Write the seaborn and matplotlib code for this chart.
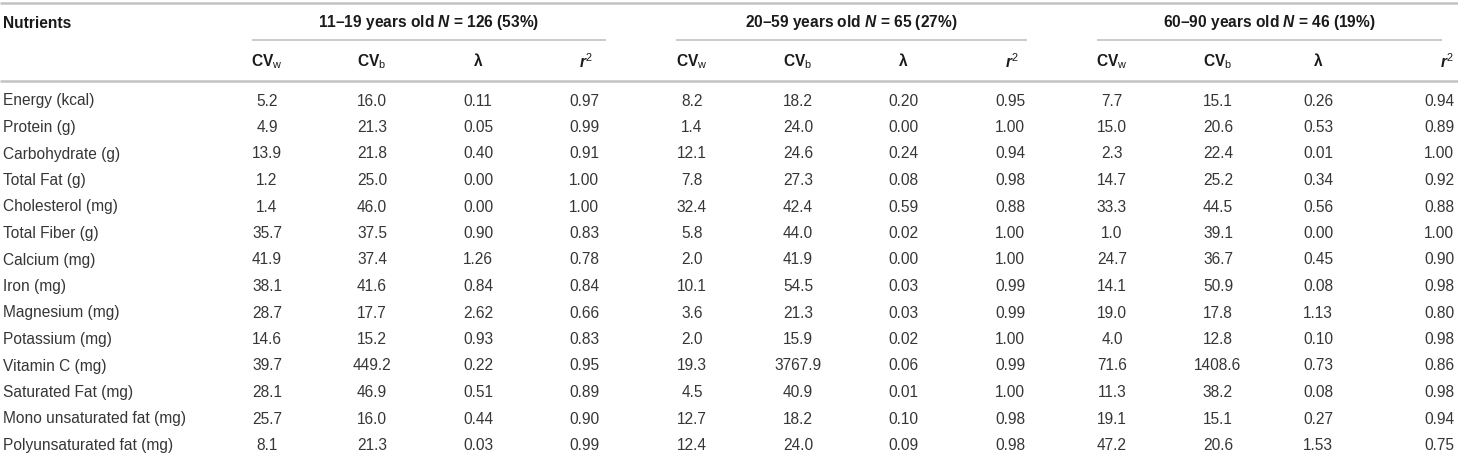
import matplotlib
matplotlib.use("Agg")
import matplotlib.pyplot as plt
import seaborn as sns

sns.set_theme(style="white")
plt.rcParams['font.family'] = ['Liberation Sans', 'DejaVu Sans']
plt.rcParams['mathtext.fontset'] = 'custom'
plt.rcParams['mathtext.rm'] = 'Liberation Sans'
plt.rcParams['mathtext.it'] = 'Liberation Sans:italic'
plt.rcParams['mathtext.bf'] = 'Liberation Sans:bold'
plt.rcParams['mathtext.bfit'] = 'Liberation Sans:italic:bold'

## data
nutrients = ["Energy (kcal)", "Protein (g)", "Carbohydrate (g)", "Total Fat (g)",
             "Cholesterol (mg)", "Total Fiber (g)", "Calcium (mg)", "Iron (mg)",
             "Magnesium (mg)", "Potassium (mg)", "Vitamin C (mg)", "Saturated Fat (mg)",
             "Mono unsaturated fat (mg)", "Polyunsaturated fat (mg)"]

group_ages = ["11–19 years old", "20–59 years old", "60–90 years old"]
group_n = [126, 65, 46]
group_pct = [53, 27, 19]

g1_cvw = [5.2, 4.9, 13.9, 1.2, 1.4, 35.7, 41.9, 38.1, 28.7, 14.6, 39.7, 28.1, 25.7, 8.1]
g1_cvb = [16.0, 21.3, 21.8, 25.0, 46.0, 37.5, 37.4, 41.6, 17.7, 15.2, 449.2, 46.9, 16.0, 21.3]
g1_lam = [0.11, 0.05, 0.40, 0.00, 0.00, 0.90, 1.26, 0.84, 2.62, 0.93, 0.22, 0.51, 0.44, 0.03]
g1_r2 = [0.97, 0.99, 0.91, 1.00, 1.00, 0.83, 0.78, 0.84, 0.66, 0.83, 0.95, 0.89, 0.90, 0.99]

g2_cvw = [8.2, 1.4, 12.1, 7.8, 32.4, 5.8, 2.0, 10.1, 3.6, 2.0, 19.3, 4.5, 12.7, 12.4]
g2_cvb = [18.2, 24.0, 24.6, 27.3, 42.4, 44.0, 41.9, 54.5, 21.3, 15.9, 3767.9, 40.9, 18.2, 24.0]
g2_lam = [0.20, 0.00, 0.24, 0.08, 0.59, 0.02, 0.00, 0.03, 0.03, 0.02, 0.06, 0.01, 0.10, 0.09]
g2_r2 = [0.95, 1.00, 0.94, 0.98, 0.88, 1.00, 1.00, 0.99, 0.99, 1.00, 0.99, 1.00, 0.98, 0.98]

g3_cvw = [7.7, 15.0, 2.3, 14.7, 33.3, 1.0, 24.7, 14.1, 19.0, 4.0, 71.6, 11.3, 19.1, 47.2]
g3_cvb = [15.1, 20.6, 22.4, 25.2, 44.5, 39.1, 36.7, 50.9, 17.8, 12.8, 1408.6, 38.2, 15.1, 20.6]
g3_lam = [0.26, 0.53, 0.01, 0.34, 0.56, 0.00, 0.45, 0.08, 1.13, 0.10, 0.73, 0.08, 0.27, 1.53]
g3_r2 = [0.94, 0.89, 1.00, 0.92, 0.88, 1.00, 0.90, 0.98, 0.80, 0.98, 0.86, 0.98, 0.94, 0.75]

groups = [[g1_cvw, g1_cvb, g1_lam, g1_r2],
          [g2_cvw, g2_cvb, g2_lam, g2_r2],
          [g3_cvw, g3_cvb, g3_lam, g3_r2]]

sub_heads = [r'$\mathbf{CV}_{\mathrm{w}}$', r'$\mathbf{CV}_{\mathrm{b}}$', 'λ', r'$\mathbfit{r}^{\mathrm{2}}$']
fmts = ['{:.1f}', '{:.1f}', '{:.2f}', '{:.2f}']

## layout (pixels)
col_x = [[267, 372, 478, 584],
         [692, 798, 903, 1010],
         [1112, 1218, 1318, 1439]]
head_x = [[267, 372, 478, 586],
          [692, 798, 903, 1012],
          [1112, 1218, 1318, 1447]]
spans = [(252, 606), (676, 1027), (1097, 1442)]
y_group, y_sub, y_first, dy = 23, 62, 101, 26.5
head_col = '#1a1a1a'
body_col = '#363636'
rule_col = '#c2c2c2'
fs = 11.2

fig = plt.figure(figsize=(14.58, 4.57), dpi=100)
ax = fig.add_axes([0, 0, 1, 1])
ax.set_xlim(0, 1458)
ax.set_ylim(457, 0)
ax.axis('off')

# rules
ax.plot([0, 1458], [3, 3], color=rule_col, lw=1.8, solid_capstyle='butt')
ax.plot([0, 1458], [81, 81], color=rule_col, lw=1.8, solid_capstyle='butt')
for x0, x1 in spans:
    ax.plot([x0, x1], [40, 40], color=rule_col, lw=1.2, solid_capstyle='butt')

# header
ax.text(3, y_group, "Nutrients", ha='left', va='center', fontsize=fs,
        fontweight='bold', color=head_col)
for g in range(3):
    label = group_ages[g] + r' $\mathbfit{N}$' + ' = %d (%d%%)' % (group_n[g], group_pct[g])
    ax.text((spans[g][0] + spans[g][1]) / 2, y_group, label, ha='center', va='center',
            fontsize=fs, fontweight='bold', color=head_col)
    for c in range(4):
        ax.text(head_x[g][c], y_sub, sub_heads[c], ha='center', va='center',
                fontsize=fs, fontweight='bold', color=head_col)

# body
for i, name in enumerate(nutrients):
    y = y_first + i * dy
    ax.text(3, y, name, ha='left', va='center', fontsize=fs, color=body_col)
    for g in range(3):
        for c in range(4):
            ax.text(col_x[g][c], y, fmts[c].format(groups[g][c][i]), ha='center',
                    va='center', fontsize=fs, color=body_col)

fig.savefig("out.png", dpi=100)
